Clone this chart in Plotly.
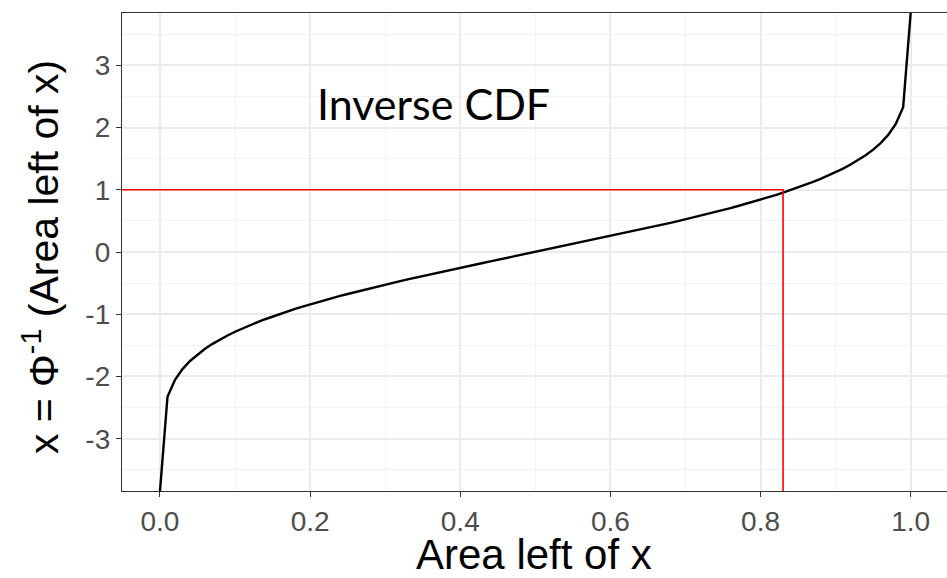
import plotly.graph_objects as go

# Area to the left of x (cumulative probability), on a 0.01 grid
AREA = [
    0.00, 0.01, 0.02, 0.03, 0.04, 0.05, 0.06, 0.07, 0.08, 0.09,
    0.10, 0.11, 0.12, 0.13, 0.14, 0.15, 0.16, 0.17, 0.18, 0.19,
    0.20, 0.21, 0.22, 0.23, 0.24, 0.25, 0.26, 0.27, 0.28, 0.29,
    0.30, 0.31, 0.32, 0.33, 0.34, 0.35, 0.36, 0.37, 0.38, 0.39,
    0.40, 0.41, 0.42, 0.43, 0.44, 0.45, 0.46, 0.47, 0.48, 0.49,
    0.50, 0.51, 0.52, 0.53, 0.54, 0.55, 0.56, 0.57, 0.58, 0.59,
    0.60, 0.61, 0.62, 0.63, 0.64, 0.65, 0.66, 0.67, 0.68, 0.69,
    0.70, 0.71, 0.72, 0.73, 0.74, 0.75, 0.76, 0.77, 0.78, 0.79,
    0.80, 0.81, 0.82, 0.83, 0.84, 0.85, 0.86, 0.87, 0.88, 0.89,
    0.90, 0.91, 0.92, 0.93, 0.94, 0.95, 0.96, 0.97, 0.98, 0.99,
    1.00,
]

# Standard normal quantiles for each area (infinite at both ends)
QUANTILE = [
    float("-inf"),
    -2.3263, -2.0537, -1.8808, -1.7507, -1.6449, -1.5548, -1.4758, -1.4051, -1.3408,
    -1.2816, -1.2265, -1.1750, -1.1264, -1.0803, -1.0364, -0.9945, -0.9542, -0.9154, -0.8779,
    -0.8416, -0.8064, -0.7722, -0.7388, -0.7063, -0.6745, -0.6433, -0.6128, -0.5828, -0.5534,
    -0.5244, -0.4959, -0.4677, -0.4399, -0.4125, -0.3853, -0.3585, -0.3319, -0.3055, -0.2793,
    -0.2533, -0.2275, -0.2019, -0.1764, -0.1510, -0.1257, -0.1004, -0.0753, -0.0502, -0.0251,
    0.0000, 0.0251, 0.0502, 0.0753, 0.1004, 0.1257, 0.1510, 0.1764, 0.2019, 0.2275,
    0.2533, 0.2793, 0.3055, 0.3319, 0.3585, 0.3853, 0.4125, 0.4399, 0.4677, 0.4959,
    0.5244, 0.5534, 0.5828, 0.6128, 0.6433, 0.6745, 0.7063, 0.7388, 0.7722, 0.8064,
    0.8416, 0.8779, 0.9154, 0.9542, 0.9945, 1.0364, 1.0803, 1.1264, 1.1750, 1.2265,
    1.2816, 1.3408, 1.4051, 1.4758, 1.5548, 1.6449, 1.7507, 1.8808, 2.0537, 2.3263,
    float("inf"),
]

# Highlighted point: area 0.83 reaching x = 1
MARK_AREA = 0.83
MARK_X = 1.0

X_TICKS = [0.0, 0.2, 0.4, 0.6, 0.8, 1.0]
X_TICK_TEXT = ["0.0", "0.2", "0.4", "0.6", "0.8", "1.0"]
Y_TICKS = [-3, -2, -1, 0, 1, 2, 3]
Y_TICK_TEXT = ["-3", "-2", "-1", "0", "1", "2", "3"]

X_RANGE = [-0.0506, 1.0484]
Y_RANGE = [-3.84, 3.84]

SANS = "Liberation Sans, Arial, sans-serif"

# Infinite quantiles are pinned to the panel edges
y_plot = [
    Y_RANGE[0] if q == float("-inf") else Y_RANGE[1] if q == float("inf") else q
    for q in QUANTILE
]

fig = go.Figure()

fig.add_trace(go.Scatter(
    x=AREA, y=y_plot, mode="lines",
    line=dict(color="black", width=2.4),
    hoverinfo="skip", showlegend=False,
))

# Red guide: horizontal from the left edge, vertical down to the bottom edge
fig.add_trace(go.Scatter(
    x=[X_RANGE[0], MARK_AREA, MARK_AREA], y=[MARK_X, MARK_X, Y_RANGE[0]],
    mode="lines", line=dict(color="#FF0000", width=1.6),
    hoverinfo="skip", showlegend=False,
))

fig.add_annotation(
    x=0.364, y=2.38, xref="x", yref="y", text="Inverse CDF", showarrow=False,
    font=dict(family="Lato", size=43, color="black"),
    xanchor="center", yanchor="middle",
)

# Axis titles
fig.add_annotation(
    x=-0.099, y=0.49, xref="paper", yref="paper",
    text="x = Φ<sup>-1</sup> (Area left of x)", showarrow=False, textangle=-90,
    font=dict(family=SANS, size=41, color="black"),
    xanchor="center", yanchor="middle",
)
fig.add_annotation(
    x=0.499, y=-0.133, xref="paper", yref="paper",
    text="Area left of x", showarrow=False,
    font=dict(family=SANS, size=42, color="black"),
    xanchor="center", yanchor="middle",
)

axis_common = dict(
    showline=True, linecolor="#333333", linewidth=1.3,
    ticks="outside", ticklen=5, tickwidth=1.3, tickcolor="#333333",
    tickfont=dict(family=SANS, size=28, color="#4D4D4D"),
    showgrid=True, gridcolor="#EBEBEB", gridwidth=1.8,
    zeroline=False, fixedrange=True,
)

fig.update_xaxes(
    **axis_common, range=X_RANGE, mirror=True,
    tickmode="array", tickvals=X_TICKS, ticktext=X_TICK_TEXT,
    minor=dict(dtick=0.1, tick0=0, showgrid=True, gridcolor="#F2F2F2", gridwidth=1, ticks=""),
)
fig.update_yaxes(
    **axis_common, range=Y_RANGE, mirror=False,
    tickmode="array", tickvals=Y_TICKS, ticktext=Y_TICK_TEXT,
    minor=dict(dtick=0.5, tick0=0, showgrid=True, gridcolor="#F2F2F2", gridwidth=1, ticks=""),
)

fig.update_layout(
    width=947, height=578,
    margin=dict(l=122, r=0, t=13, b=87, autoexpand=False),
    plot_bgcolor="white", paper_bgcolor="white",
    showlegend=False,
)

fig.write_html("out.html")
